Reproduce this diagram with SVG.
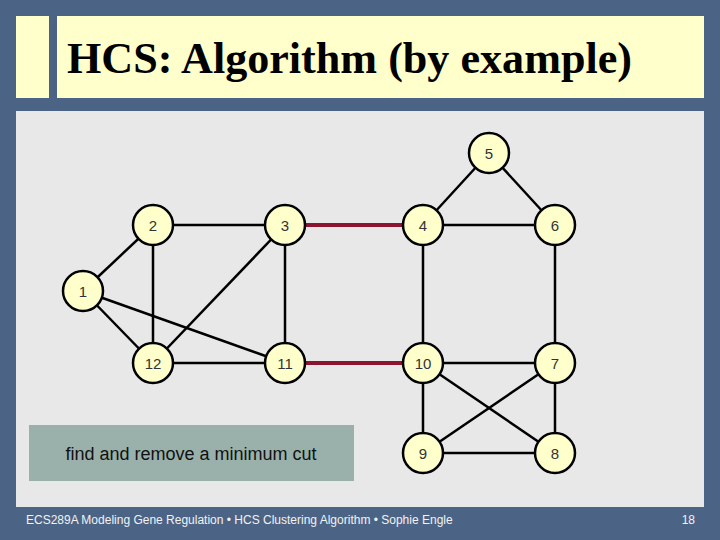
<svg xmlns="http://www.w3.org/2000/svg" width="720" height="540" viewBox="0 0 720 540">
<defs>
<style>
.node circle{fill:#ffffcc;stroke:#000;stroke-width:2.5}
.node text{font-family:"Liberation Sans",Arial,sans-serif;font-size:15px;fill:#333;text-anchor:middle;dominant-baseline:central}
.e{stroke:#000;stroke-width:2.5;fill:none}
.cut{stroke:#8b1430;stroke-width:4;fill:none}
.foot{font-family:"Liberation Sans",Arial,sans-serif;font-size:12px;fill:#f2f2f2}
</style>
</defs>
<rect x="0" y="0" width="720" height="540" fill="#4b6485"/>
<rect x="16" y="16" width="33" height="82" fill="#ffffcc"/>
<rect x="57" y="16" width="647" height="82" fill="#ffffcc"/>
<text x="67" y="73" font-family="Liberation Serif,'Times New Roman',serif" font-weight="bold" font-size="45" fill="#000" textLength="565" lengthAdjust="spacingAndGlyphs">HCS: Algorithm (by example)</text>
<rect x="16" y="111" width="688" height="396" fill="#e8e8e8"/>
<g id="caption">
<rect x="29" y="425" width="325" height="56" fill="#9ab1ab"/>
<text x="191" y="460" font-family="Liberation Sans,Arial,sans-serif" font-size="18" fill="#111" text-anchor="middle">find and remove a minimum cut</text>
</g>
<g id="edges">
<line class="e" x1="83" y1="291" x2="153" y2="225"/>
<line class="e" x1="83" y1="291" x2="153" y2="363"/>
<line class="e" x1="83" y1="291" x2="285" y2="363"/>
<line class="e" x1="153" y1="225" x2="285" y2="225"/>
<line class="e" x1="153" y1="225" x2="153" y2="363"/>
<line class="e" x1="285" y1="225" x2="153" y2="363"/>
<line class="e" x1="285" y1="225" x2="285" y2="363"/>
<line class="e" x1="153" y1="363" x2="285" y2="363"/>
<line class="e" x1="423" y1="225" x2="489" y2="153"/>
<line class="e" x1="489" y1="153" x2="555" y2="225"/>
<line class="e" x1="423" y1="225" x2="555" y2="225"/>
<line class="e" x1="423" y1="225" x2="423" y2="363"/>
<line class="e" x1="555" y1="225" x2="555" y2="363"/>
<line class="e" x1="423" y1="363" x2="555" y2="363"/>
<line class="e" x1="423" y1="363" x2="423" y2="453"/>
<line class="e" x1="423" y1="363" x2="555" y2="453"/>
<line class="e" x1="555" y1="363" x2="423" y2="453"/>
<line class="e" x1="555" y1="363" x2="555" y2="453"/>
<line class="e" x1="423" y1="453" x2="555" y2="453"/>
<line class="cut" x1="305" y1="225" x2="403" y2="225"/>
<line class="cut" x1="305" y1="363" x2="403" y2="363"/>
</g>
<g id="n1" class="node"><circle cx="83" cy="291" r="20"/><text x="83" y="291">1</text></g>
<g id="n2" class="node"><circle cx="153" cy="225" r="20"/><text x="153" y="225">2</text></g>
<g id="n3" class="node"><circle cx="285" cy="225" r="20"/><text x="285" y="225">3</text></g>
<g id="n4" class="node"><circle cx="423" cy="225" r="20"/><text x="423" y="225">4</text></g>
<g id="n5" class="node"><circle cx="489" cy="153" r="20"/><text x="489" y="153">5</text></g>
<g id="n6" class="node"><circle cx="555" cy="225" r="20"/><text x="555" y="225">6</text></g>
<g id="n7" class="node"><circle cx="555" cy="363" r="20"/><text x="555" y="363">7</text></g>
<g id="n8" class="node"><circle cx="555" cy="453" r="20"/><text x="555" y="453">8</text></g>
<g id="n9" class="node"><circle cx="423" cy="453" r="20"/><text x="423" y="453">9</text></g>
<g id="n10" class="node"><circle cx="423" cy="363" r="20"/><text x="423" y="363">10</text></g>
<g id="n11" class="node"><circle cx="285" cy="363" r="20"/><text x="285" y="363">11</text></g>
<g id="n12" class="node"><circle cx="153" cy="363" r="20"/><text x="153" y="363">12</text></g>
<text class="foot" x="26" y="524">ECS289A Modeling Gene Regulation • HCS Clustering Algorithm • Sophie Engle</text>
<text class="foot" x="695" y="524" text-anchor="end">18</text>
</svg>
